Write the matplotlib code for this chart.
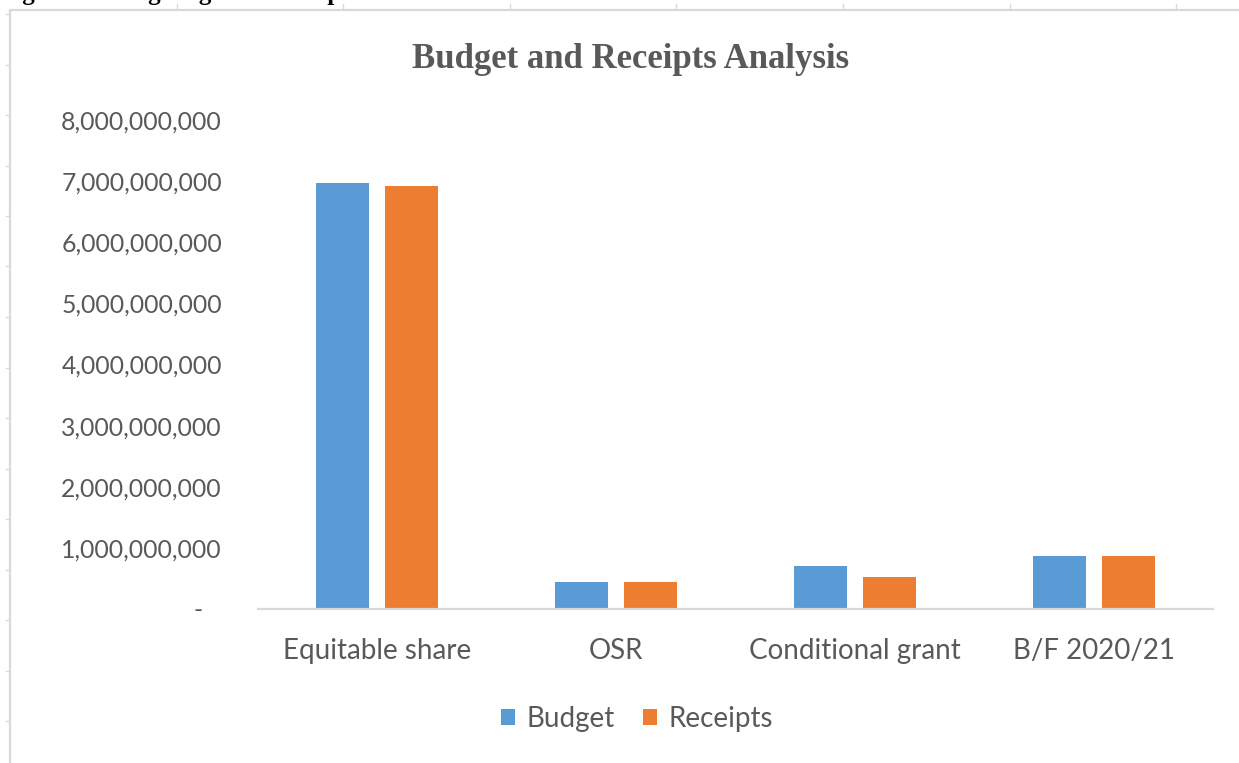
import matplotlib
matplotlib.use("Agg")
import matplotlib.pyplot as plt
from matplotlib.lines import Line2D
import numpy as np

categories = ["Equitable share", "OSR", "Conditional grant", "B/F 2020/21"]
budget = [6.97e9, 0.44e9, 0.70e9, 0.87e9]
receipts = [6.92e9, 0.44e9, 0.52e9, 0.87e9]
ytick_vals = [0, 1e9, 2e9, 3e9, 4e9, 5e9, 6e9, 7e9, 8e9]
ytick_labels = ["-   ", "1,000,000,000", "2,000,000,000", "3,000,000,000",
                "4,000,000,000", "5,000,000,000", "6,000,000,000",
                "7,000,000,000", "8,000,000,000"]
series_names = ["Budget", "Receipts"]

W, H = 1239, 763
fig = plt.figure(figsize=(W / 100, H / 100), dpi=100)
fig.patch.set_facecolor("white")

grey = "#595959"
light = "#d9d9d9"
blue = "#5B9BD5"
orange = "#ED7D31"
font = "Lato"

ax = fig.add_axes([258 / W, 1 - 609 / H, (1213 - 258) / W, (609 - 120) / H])
x = np.arange(len(categories))
bw = 0.222
off = 0.144
b1 = ax.bar(x - off, budget, bw, color=blue, label=series_names[0], zorder=2)
b2 = ax.bar(x + off, receipts, bw, color=orange, label=series_names[1], zorder=2)

ax.set_xlim(-0.5, len(categories) - 0.5)
ax.set_ylim(0, 8e9)
ax.set_yticks(ytick_vals)
ax.set_yticklabels(ytick_labels, fontfamily=font, fontsize=17.8, color=grey)
ax.set_xticks(x)
ax.set_xticklabels(categories, fontfamily=font, fontsize=20, color=grey)
ax.tick_params(axis="y", length=0, pad=26)
ax.tick_params(axis="x", length=0, pad=21)
for s in ["top", "right", "left"]:
    ax.spines[s].set_visible(False)
ax.spines["bottom"].set_color(light)
ax.spines["bottom"].set_linewidth(1.6)
ax.set_facecolor("none")

fig.text(631 / W, 1 - 59 / H, "Budget and Receipts Analysis", ha="center", va="center",
         fontfamily="Liberation Serif", fontweight="bold", fontsize=25, color=grey)

leg = fig.legend(handles=[b1, b2], labels=series_names, loc="center",
                 bbox_to_anchor=(637 / W, 1 - 719 / H), ncol=2, frameon=False,
                 handlelength=0.5, handleheight=0.5, handletextpad=0.4,
                 columnspacing=1.05, prop={"family": font, "size": 20})
for t in leg.get_texts():
    t.set_color(grey)

# page decorations: partially visible caption and frame lines
fig.text(0 / W, 1.0, "Figure 4: Budget against Receipts", ha="left", va="baseline",
         fontfamily="Liberation Serif", fontweight="bold", fontsize=18, color="black")
fig.add_artist(Line2D([10 / W, 1], [1 - 10 / H, 1 - 10 / H], color=light, lw=1.6,
                      transform=fig.transFigure))
fig.add_artist(Line2D([10 / W, 10 / W], [1 - 10 / H, 0], color=light, lw=1.6,
                      transform=fig.transFigure))
for tx in [177, 343, 510, 676, 843, 1010, 1176]:
    fig.add_artist(Line2D([tx / W, tx / W], [1 - 10 / H, 1 - 4 / H], color=light, lw=1.0,
                          transform=fig.transFigure))
for k in range(15):
    ty = 14 + 50.5 * k
    fig.add_artist(Line2D([6 / W, 10 / W], [1 - ty / H, 1 - ty / H], color=light, lw=1.0,
                          transform=fig.transFigure))

fig.savefig("out.png", dpi=100)
